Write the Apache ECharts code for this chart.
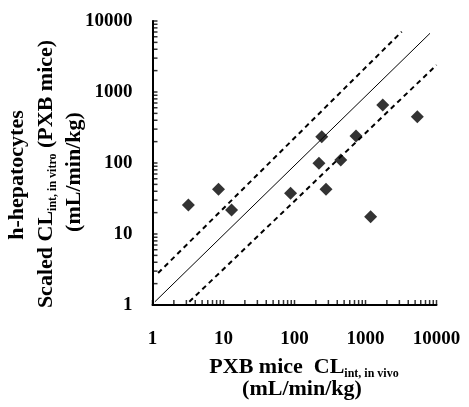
<!DOCTYPE html>
<html>
<head>
<meta charset="utf-8">
<script src="https://cdn.jsdelivr.net/npm/echarts@6/dist/echarts.min.js"></script>
<style>html,body{margin:0;padding:0;background:#fff}#c{width:469px;height:407px}</style>
</head>
<body>
<div id="c"></div>
<script>
// Data (x: PXB mice CLint in vivo, y: scaled CLint in vitro)
const pointsX = [3.2, 8.5, 13, 88, 221, 242, 278, 448, 735, 1180, 1750, 5370];
const pointsY = [25.6, 42.6, 21.8, 37.4, 99, 235, 42.6, 110, 240, 17.5, 656, 449];
const unityLine = [[1.08, 1.11], [8100, 6710]];
const upperLine = [[1.2, 2.82], [3240, 7070]];
const lowerLine = [[3.3, 1.11], [10000, 2400]];
const tickLabels = ['1', '10', '100', '1000', '10000'];
const decades = [1, 10, 100, 1000];
const minorMultipliers = [1, 2, 3, 4, 5, 6, 7, 8, 9];
const tickValues = [];
decades.forEach(d => minorMultipliers.forEach(k => tickValues.push(d * k)));
tickValues.push(10000);
const axisMin = 1, axisMax = 10000;

const FONT = '"Liberation Serif", "DejaVu Serif", serif';
const chart = echarts.init(document.getElementById('c'), null, {renderer: 'canvas'});

const logAxis = (margin) => ({
  type: 'log', min: axisMin, max: axisMax,
  splitLine: {show: false},
  axisLine: {show: true, lineStyle: {color: '#000', width: 2}},
  axisTick: {show: false},
  axisLabel: {color: '#000', fontFamily: FONT, fontWeight: 'bold', fontSize: 19, margin: margin,
    formatter: v => tickLabels[Math.round(Math.log10(v))]}
});

const mainFont = {fontFamily: FONT, fontWeight: 'bold', fontSize: 22, lineHeight: 26, fill: '#000'};
const subFont = {fontFamily: FONT, fontWeight: 'bold', fontSize: 12, lineHeight: 12, verticalAlign: 'bottom', fill: '#000'};

chart.setOption({
  animation: false,
  backgroundColor: '#fff',
  grid: {left: 152.5, right: 32.5, top: 21, bottom: 102},
  xAxis: logAxis(25),
  yAxis: logAxis(20),
  graphic: [
    {type: 'text', x: 304, y: 367, style: {
      text: '{m|PXB mice  CL}{s|int, in vivo}', align: 'center', verticalAlign: 'middle',
      rich: {m: mainFont, s: subFont}
    }},
    {type: 'text', x: 302, y: 389, style: Object.assign({
      text: '(mL/min/kg)', align: 'center', verticalAlign: 'middle'}, mainFont)
    },
    {type: 'text', x: 17, y: 175, rotation: Math.PI / 2, style: Object.assign({
      text: 'h-hepatocytes', align: 'center', verticalAlign: 'middle'}, mainFont)
    },
    {type: 'text', x: 46, y: 174, rotation: Math.PI / 2, style: {
      text: '{m|Scaled CL}{s|int, in vitro}{m| (PXB mice)}', align: 'center', verticalAlign: 'middle',
      rich: {m: mainFont, s: subFont}
    }},
    {type: 'text', x: 74, y: 172, rotation: Math.PI / 2, style: Object.assign({
      text: '(mL/min/kg)', align: 'center', verticalAlign: 'middle'}, mainFont)
    }
  ],
  series: [
    // inward axis ticks (log-spaced), placed through the axes' own scales
    {type: 'scatter', data: tickValues.map(v => [v, axisMin]), symbol: 'rect', symbolSize: [1.5, 5],
     symbolOffset: [0, -2.5], clip: false, silent: true, itemStyle: {color: '#000'}, z: 3},
    {type: 'scatter', data: tickValues.map(v => [axisMin, v]), symbol: 'rect', symbolSize: [5, 1.5],
     symbolOffset: [2.5, 0], clip: false, silent: true, itemStyle: {color: '#000'}, z: 3},
    {type: 'line', data: unityLine, symbol: 'none', lineStyle: {color: '#000', width: 1}, silent: true},
    {type: 'line', data: upperLine, symbol: 'none', lineStyle: {color: '#000', width: 2, type: [5, 4]}, silent: true},
    {type: 'line', data: lowerLine, symbol: 'none', lineStyle: {color: '#000', width: 2, type: [5, 4]}, silent: true},
    {type: 'scatter', data: pointsX.map((x, i) => [x, pointsY[i]]), symbol: 'diamond', symbolSize: [13, 13],
     itemStyle: {color: '#000'}}
  ]
});
</script>
</body>
</html>
